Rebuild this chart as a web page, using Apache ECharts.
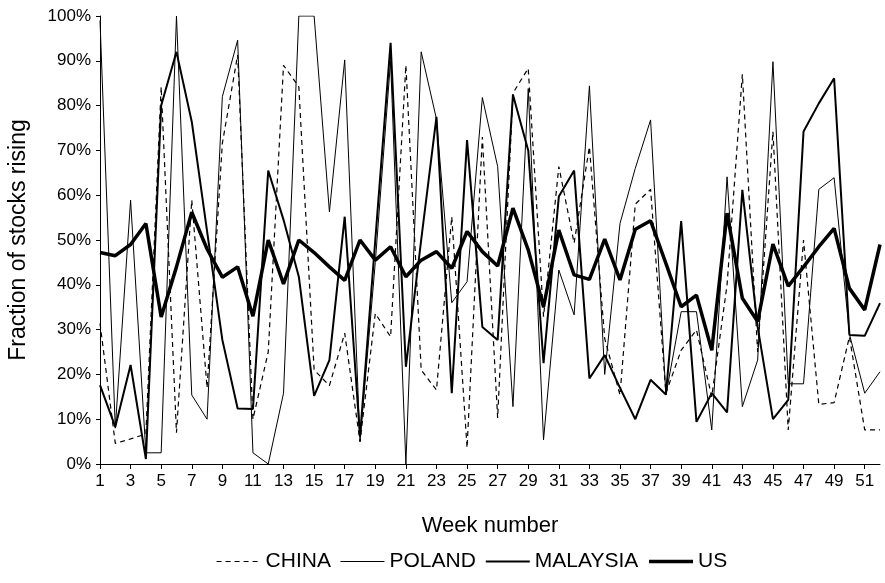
<!DOCTYPE html>
<html><head><meta charset="utf-8">
<script src="https://cdn.jsdelivr.net/npm/echarts@6/dist/echarts.min.js"></script>
<style>html,body{margin:0;padding:0;background:#fff}#c{width:885px;height:583px}</style>
</head><body><div id="c"></div>
<script>
var weeks = [];
for (var i = 1; i <= 52; i++) weeks.push(String(i));
var china = [31.4,4.6,5.6,6.7,84.2,7,58.9,17,71.6,91.3,10,25,89,84.2,21,17.5,29.2,5,33.6,28.4,89,21,16.5,55.2,3.6,73,10.3,82.8,88.3,32.9,66.4,49.3,70.8,28,15.4,58,61.3,15.8,25.4,29.9,15,40,87,25,74.2,7.6,50,13.3,13.7,28.4,7.6,7.6];
var poland = [99,8,58.9,2.5,2.5,100,15.4,10,82,94.6,2.5,0,15.8,100,100,56.3,90.2,5,45,90,0,92,77,36,40.7,81.8,66.4,12.8,83.8,5.4,43.3,33.3,84.4,20,53.7,66,76.8,15.4,34,34,7.6,64.1,12.8,23.2,89.8,17.9,17.9,61.3,63.9,29,15.8,20.6];
var malaysia = [17.6,8.3,22.1,1.1,80,92,76.4,52,27.7,12.4,12.3,65.5,54.5,41.8,15.2,23.2,55.2,6.1,50,94,21.7,50,77.5,15.8,72.3,30.6,27.7,82.4,70,22.5,59.7,65.5,19.1,24.3,17,10,18.8,15.5,54.2,9.4,15.8,11.5,61.2,30.6,10,14.3,74.2,80.5,86.1,28.8,28.6,35.9];
var us = [47.2,46.5,49,53.7,32.8,44,56.2,48,41.7,44,33,50,40.2,50,47.2,44,41,50,45.5,48.5,41.8,45.5,47.4,43.7,51.9,47.4,44.2,57.1,47.8,35.1,52.2,42.2,41.2,50.2,41.1,52.4,54.3,44.8,35.1,37.7,25.4,56,37,31.8,49.1,39.7,44,48.5,52.6,39.2,34.4,49];
var seriesNames = ['CHINA','POLAND','MALAYSIA','US'];
var widths = [1.2, 1, 2, 3.5];
var dash = [[5,4], 'solid', 'solid', 'solid'];

var FONT = 'Liberation Sans, Arial, sans-serif';
var chart = echarts.init(document.getElementById('c'), null, {renderer:'canvas'});
function mk(i, data) {
  return {name:seriesNames[i], type:'line', data:data, symbol:'none', showSymbol:false, animation:false,
    lineStyle:{color:'#000', width:widths[i], type:dash[i]}, itemStyle:{color:'#000'}};
}
chart.setOption({
  backgroundColor:'#fff',
  animation:false,
  grid:{left:100, right:5, top:16, bottom:119, containLabel:false, outerBoundsMode:'none'},
  legend:{data:seriesNames.map(function(n, i){ return {name:n, itemStyle:{opacity:0},
      lineStyle:{color:'#000', width:widths[i], type:dash[i]}}; }),
    bottom:6, left:211, itemWidth:44, itemHeight:12, itemGap:9,
    itemStyle:{opacity:0},
    textStyle:{fontFamily:FONT, fontSize:21, color:'#000'}},
  xAxis:{type:'category', data:weeks, boundaryGap:false,
    name:'Week number', nameLocation:'middle', nameGap:51,
    nameTextStyle:{fontFamily:FONT, fontSize:22, color:'#000'},
    axisLine:{lineStyle:{color:'#000', width:1}},
    axisTick:{interval:1, length:5, lineStyle:{color:'#000'}},
    axisLabel:{interval:1, fontFamily:'Liberation Sans Narrow, Liberation Sans, Arial', fontSize:17, color:'#000', margin:9},
    splitLine:{show:false}},
  yAxis:{type:'value', min:0, max:100, interval:10,
    name:'Fraction of stocks rising', nameLocation:'middle', nameGap:70, nameRotate:90,
    nameTextStyle:{fontFamily:FONT, fontSize:23, color:'#000'},
    axisLine:{show:true, lineStyle:{color:'#000', width:1}},
    axisTick:{show:true, length:4, lineStyle:{color:'#000'}},
    axisLabel:{formatter:'{value}%', fontFamily:FONT, fontSize:17, color:'#000', margin:9},
    splitLine:{show:false}},
  series:[mk(0, china), mk(1, poland), mk(2, malaysia), mk(3, us)]
});
</script></body></html>
